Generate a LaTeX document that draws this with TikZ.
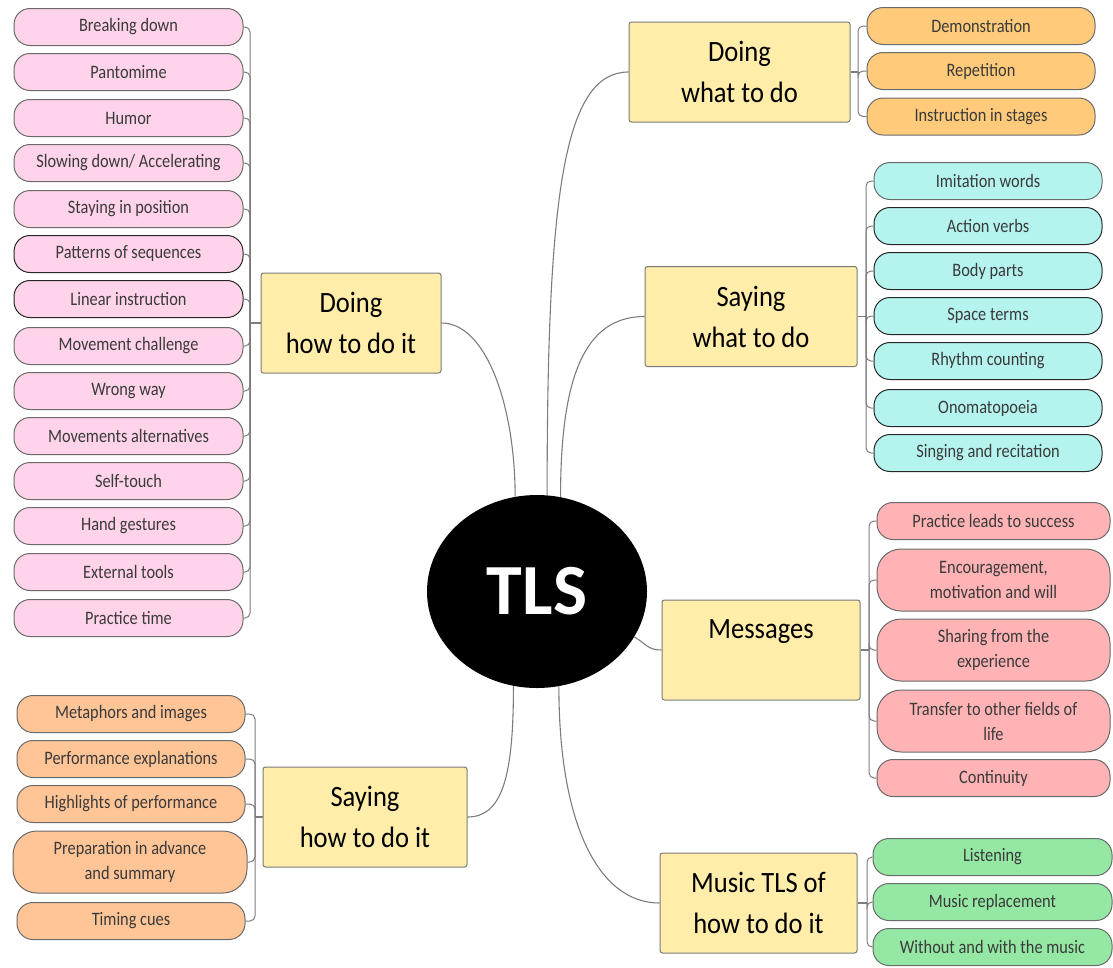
\documentclass[tikz,border=0pt]{standalone}
\usepackage{fontspec}
\setmainfont{Carlito}
\newfontfamily\leaffont[FakeStretch=0.86]{Carlito}
\newfontfamily\hubfont[FakeStretch=0.9]{Carlito}
\usetikzlibrary{shapes.geometric,calc}
\definecolor{hubfill}{HTML}{FFEDA9}
\definecolor{hubdraw}{HTML}{7A7A7A}
\definecolor{leafdraw}{HTML}{6A6A6A}
\definecolor{leaftext}{HTML}{3A3A3A}
\definecolor{linkgray}{HTML}{7C7C7C}
\definecolor{cpink}{HTML}{FFD3EA}
\definecolor{corange}{HTML}{FFCB7A}
\definecolor{ccyan}{HTML}{B5F4EE}
\definecolor{csalmon}{HTML}{FFB3B5}
\definecolor{cgreen}{HTML}{94E8A4}
\definecolor{cpeach}{HTML}{FFC597}
\begin{document}
\begin{tikzpicture}[x=1pt,y=-1pt,
  leaf/.style={draw=leafdraw, line width=1pt, rounded corners=16pt, minimum height=37pt,
    inner sep=0pt, align=center, text=leaftext, font=\leaffont\fontsize{19}{25}\selectfont},
  tallleaf/.style={leaf, minimum height=62pt, rounded corners=24pt},
  darkleaf/.style={draw=black!85},
  hub/.style={draw=hubdraw, fill=hubfill, line width=1pt, rounded corners=2.5pt, minimum height=100pt,
    inner sep=0pt, align=center, font=\hubfont\fontsize{29.5}{41}\selectfont},
  link/.style={draw=linkgray, line width=1.1pt},
  branch/.style={draw=linkgray, line width=1pt, rounded corners=5pt}]
\useasboundingbox (0,0) rectangle (1113,967);

% centre
\node[ellipse, fill=black, minimum width=220pt, minimum height=193pt, inner sep=0pt,
  text=white, font=\fontsize{72}{72}\selectfont\bfseries] (tls) at (537,591.5) {TLS};

% hubs
\node[hub, minimum width=180pt] (dh) at (351,323) {Doing\\ how to do it};
\node[hub, minimum width=204pt] (sh) at (365,817) {Saying\\ how to do it};
\node[hub, minimum width=221pt] (dw) at (739.5,72) {Doing\\ what to do};
\node[hub, minimum width=212pt] (sw) at (751,316.5) {Saying\\ what to do};
\node[hub, minimum width=198pt] (ms) at (761,650) {Messages\\ \mbox{}};
\node[hub, minimum width=197pt] (mu) at (758.5,903) {Music TLS of\\ how to do it};

% hub links to centre
\draw[link] (dh.east) .. controls +(45,0) and ($(tls.103)+(0,-90)$) .. (tls.103);
\draw[link] (dw.west) .. controls +(-65,0) and ($(tls.84)+(0,-300)$) .. (tls.84);
\draw[link] (sw.west) .. controls +(-60,0) and ($(tls.76)+(0,-120)$) .. (tls.76);
\draw[link] (tls.-25) .. controls +(12,7) and +(-14,0) .. (ms.west);
\draw[link] (tls.-77) .. controls +(0,140) and +(-60,0) .. (mu.west);
\draw[link] (tls.-104) .. controls +(0,90) and +(35,0) .. (sh.east);

% Doing how to do it leaves
\foreach \t/\y/\n in {Breaking down/27/a1, Pantomime/72/a2, Humor/118/a3,
  {Slowing down/ Accelerating}/163/a4, Staying in position/209/a5,
  Movement challenge/346/a8, Wrong way/391/a9, Movements alternatives/436/a10,
  Self-touch/481/a11, Hand gestures/526/a12, External tools/572/a13, Practice time/618/a14}
  \node[leaf, fill=cpink, minimum width=229pt] (\n) at (128.5,\y) {\t};
\node[leaf, darkleaf, fill=cpink, minimum width=229pt] (a6) at (128.5,254) {Patterns of sequences};
\node[leaf, darkleaf, fill=cpink, minimum width=229pt] (a7) at (128.5,299) {Linear instruction};
\coordinate (dhs) at (250,323);
\draw[link] (dh.west) -- (dhs);
\foreach \n in {a1,a2,a3,a4,a5,a6,a7,a8,a9,a10,a11,a12,a13,a14}
  \draw[branch] (dhs) |- (\n.east);

% Saying how to do it leaves
\node[leaf, fill=cpeach, minimum width=228pt] (b1) at (131,714) {Metaphors and images};
\node[leaf, fill=cpeach, minimum width=228pt] (b2) at (131,759) {Performance explanations};
\node[leaf, fill=cpeach, minimum width=228pt] (b3) at (131,804) {Highlights of performance};
\node[tallleaf, fill=cpeach, minimum width=234pt] (b4) at (130,862) {Preparation in advance\\ and summary};
\node[leaf, fill=cpeach, minimum width=228pt] (b5) at (131,921) {Timing cues};
\coordinate (shs) at (255,817);
\draw[link] (sh.west) -- (shs);
\foreach \n in {b1,b2,b3,b4,b5}
  \draw[branch] (shs) |- (\n.east);

% Doing what to do leaves
\node[leaf, fill=corange, minimum width=228pt] (c1) at (981,26) {Demonstration};
\node[leaf, fill=corange, minimum width=228pt] (c2) at (981,71) {Repetition};
\node[leaf, fill=corange, minimum width=228pt] (c3) at (981,116.5) {Instruction in stages};
\coordinate (dws) at (858,72);
\draw[link] (dw.east) -- (dws);
\foreach \n in {c1,c2,c3}
  \draw[branch] (dws) |- (\n.west);

% Saying what to do leaves
\node[leaf, fill=ccyan, minimum width=228pt] (d1) at (988,181) {Imitation words};
\foreach \t/\y/\n in {Action verbs/226/d2, Body parts/271/d3, Space terms/316/d4,
  Rhythm counting/361/d5, Onomatopoeia/408/d6, Singing and recitation/453/d7}
  \node[leaf, darkleaf, fill=ccyan, minimum width=228pt] (\n) at (988,\y) {\t};
\coordinate (sws) at (866,316.5);
\draw[link] (sw.east) -- (sws);
\foreach \n in {d1,d2,d3,d4,d5,d6,d7}
  \draw[branch] (sws) |- (\n.west);

% Messages leaves
\node[leaf, fill=csalmon, minimum width=233pt] (e1) at (993.5,521) {Practice leads to success};
\node[tallleaf, fill=csalmon, minimum width=233pt] (e2) at (993.5,580) {Encouragement,\\ motivation and will};
\node[tallleaf, fill=csalmon, minimum width=233pt] (e3) at (993.5,650) {Sharing from the\\ experience};
\node[tallleaf, fill=csalmon, minimum width=233pt] (e4) at (993.5,721) {Transfer to other fields of\\ life};
\node[leaf, fill=csalmon, minimum width=233pt] (e5) at (993.5,778) {Continuity};
\coordinate (mss) at (869,650);
\draw[link] (ms.east) -- (mss);
\foreach \n in {e1,e2,e3,e4,e5}
  \draw[branch] (mss) |- (\n.west);

% Music leaves
\node[leaf, fill=cgreen, minimum width=239pt] (f1) at (992.5,857) {Listening};
\node[leaf, fill=cgreen, minimum width=239pt] (f2) at (992.5,902) {Music replacement};
\node[leaf, fill=cgreen, minimum width=239pt] (f3) at (992.5,947) {Without and with the music};
\coordinate (mus) at (867,903);
\draw[link] (mu.east) -- (mus);
\foreach \n in {f1,f2,f3}
  \draw[branch] (mus) |- (\n.west);
\end{tikzpicture}
\end{document}
